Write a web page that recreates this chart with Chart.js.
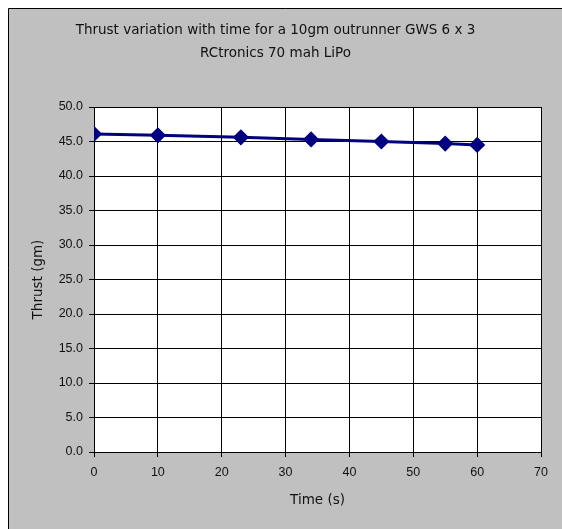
<!DOCTYPE html>
<html>
<head>
<meta charset="utf-8">
<script src="https://cdn.jsdelivr.net/npm/chart.js@4/dist/chart.umd.min.js"></script>
<style>
  html, body { margin: 0; padding: 0; background: #ffffff; }
  #wrap { position: relative; width: 562px; height: 529px; }
</style>
</head>
<body>
<div id="wrap"><canvas id="c" width="562" height="529"></canvas></div>
<script>
const titleLines = ["Thrust variation with time for a 10gm outrunner GWS 6 x 3", "RCtronics 70 mah LiPo"];
const xAxisTitle = "Time (s)";
const yAxisTitle = "Thrust (gm)";
const timeSeconds = [0, 10, 23, 34, 45, 55, 60];
const thrustGm = [46.1, 45.9, 45.6, 45.3, 45.0, 44.7, 44.5];
const xTickRange = [0, 70, 10];
const yTickRange = [0, 50, 5];

const frame = {
  id: 'frame',
  beforeDraw(chart) {
    const ctx = chart.ctx;
    ctx.save();
    ctx.fillStyle = '#ffffff';
    ctx.fillRect(0, 0, chart.width, chart.height);
    ctx.fillStyle = '#c0c0c0';
    ctx.fillRect(8, 8, chart.width - 8, chart.height - 8);
    ctx.strokeStyle = '#000000';
    ctx.lineWidth = 1;
    ctx.beginPath();
    ctx.moveTo(8.5, chart.height);
    ctx.lineTo(8.5, 8.5);
    ctx.lineTo(chart.width, 8.5);
    ctx.stroke();
    const a = chart.chartArea;
    ctx.fillStyle = '#ffffff';
    ctx.fillRect(a.left, a.top, a.right - a.left, a.bottom - a.top);
    ctx.restore();
  }
};

const points = timeSeconds.map((t, i) => ({ x: t, y: thrustGm[i] }));
const fontFam = "Arial, 'Liberation Sans', sans-serif";
const titleFam = "'DejaVu Sans', Arial, sans-serif";

new Chart(document.getElementById('c'), {
  type: 'scatter',
  data: {
    datasets: [{
      data: points,
      showLine: true,
      borderColor: '#000080',
      backgroundColor: '#000080',
      borderWidth: 3,
      pointStyle: 'rectRot',
      pointRadius: 6,
      pointHoverRadius: 6,
      tension: 0
    }]
  },
  options: {
    responsive: false,
    devicePixelRatio: 1,
    animation: false,
    layout: { padding: { left: 10, right: 21, top: 0, bottom: 10 } },
    plugins: {
      legend: { display: false },
      tooltip: { enabled: false },
      title: {
        display: true,
        text: titleLines,
        color: '#111111',
        font: { family: titleFam, size: 13.5, weight: 'normal', lineHeight: 23 / 13.5 },
        padding: { top: 19, bottom: 42 }
      }
    },
    scales: {
      x: {
        type: 'linear',
        min: xTickRange[0], max: xTickRange[1],
        afterFit(s) { s.height = 67; },
        ticks: {
          stepSize: xTickRange[2],
          color: '#111111',
          padding: 8,
          font: { family: fontFam, size: 12.5 }
        },
        grid: { color: '#000000', lineWidth: 1, tickLength: 5, tickColor: '#000000', drawTicks: true },
        border: { color: '#000000', width: 1 },
        title: {
          display: true,
          text: xAxisTitle,
          color: '#111111',
          font: { family: titleFam, size: 13.5 },
          padding: { top: 0, bottom: 10 }
        }
      },
      y: {
        type: 'linear',
        min: yTickRange[0], max: yTickRange[1],
        afterFit(s) { s.width = 84; },
        ticks: {
          stepSize: yTickRange[2],
          color: '#111111',
          padding: 6,
          font: { family: fontFam, size: 12.5 },
          callback: v => Number(v).toFixed(1)
        },
        grid: { color: '#000000', lineWidth: 1, tickLength: 5, tickColor: '#000000', drawTicks: true },
        border: { color: '#000000', width: 1 },
        title: {
          display: true,
          text: yAxisTitle,
          color: '#111111',
          font: { family: titleFam, size: 13.5 },
          padding: { top: 20, bottom: 0 }
        }
      }
    }
  },
  plugins: [frame]
});
</script>
</body>
</html>
